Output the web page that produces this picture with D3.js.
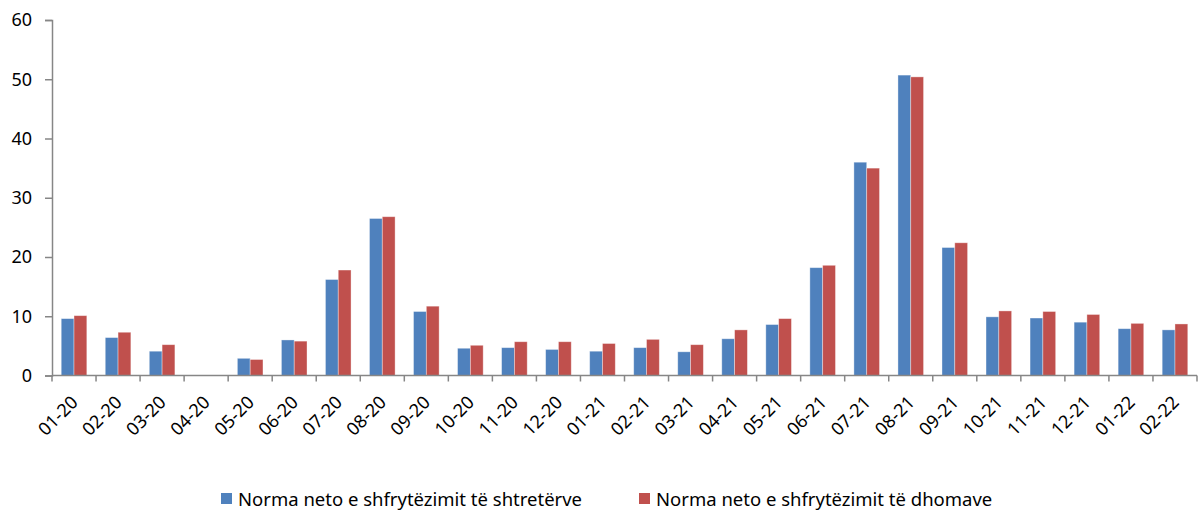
<!DOCTYPE html>
<html lang="sq">
<head>
    <meta charset="UTF-8">
    <title>Norma neto e shfrytëzimit</title>
    <style>
        body { margin: 0; background: #fff; }
        svg text { font-family: 'Noto Sans', sans-serif; fill: #000; }
    </style>
    <script src="https://d3js.org/d3.v7.min.js"></script>
</head>
<body>
    <svg width="1199" height="512"></svg>
    <script>
        const months = ["01-20","02-20","03-20","04-20","05-20","06-20","07-20","08-20","09-20","10-20","11-20","12-20",
                        "01-21","02-21","03-21","04-21","05-21","06-21","07-21","08-21","09-21","10-21","11-21","12-21",
                        "01-22","02-22"];
        const beds  = [9.6, 6.4, 4.1, 0, 2.9, 6.0, 16.2, 26.5, 10.8, 4.6, 4.7, 4.4,
                       4.1, 4.7, 4.0, 6.2, 8.6, 18.2, 36.0, 50.7, 21.6, 9.9, 9.7, 9.0,
                       7.9, 7.7];
        const rooms = [10.1, 7.3, 5.2, 0, 2.7, 5.8, 17.8, 26.8, 11.7, 5.1, 5.7, 5.7,
                       5.4, 6.1, 5.2, 7.7, 9.6, 18.6, 35.0, 50.4, 22.4, 10.9, 10.8, 10.3,
                       8.8, 8.7];
        const seriesNames = ["Norma neto e shfrytëzimit të shtretërve", "Norma neto e shfrytëzimit të dhomave"];
        const yTicks = [0, 10, 20, 30, 40, 50, 60];

        const colors = ["#4F81BD", "#C0504D"];
        const svg = d3.select("svg");
        const plotLeft = 52, plotRight = 1197, plotTop = 20, plotBottom = 375.5;

        const x = d3.scaleBand().domain(months).range([plotLeft, plotRight]).paddingInner(0).paddingOuter(0);
        const inner = d3.scaleBand().domain([0, 1]).range([0, x.bandwidth()]).paddingInner(0).paddingOuter(0.72);
        const y = d3.scaleLinear().domain([0, 60]).range([plotBottom, plotTop]);

        const rows = months.map((m, i) => ({ m, v: [beds[i], rooms[i]] }));

        // bars
        const g = svg.selectAll("g.month").data(rows).enter().append("g")
            .attr("class", "month")
            .attr("transform", d => `translate(${x(d.m)},0)`);
        g.selectAll("rect").data(d => d.v.map((v, k) => ({ v, k })).filter(d => d.v > 0)).enter().append("rect")
            .attr("x", d => inner(d.k))
            .attr("width", inner.bandwidth())
            .attr("y", d => y(d.v))
            .attr("height", d => y(0) - y(d.v))
            .attr("fill", d => colors[d.k])
            .attr("stroke", "rgba(255,255,255,0.45)")
            .attr("stroke-width", 0.8);

        // y axis
        const yAxis = svg.append("g")
            .attr("transform", `translate(${plotLeft},0)`)
            .call(d3.axisLeft(y).tickValues(yTicks).tickSize(7).tickPadding(13).tickFormat(d3.format("d")));
        yAxis.select(".domain").attr("stroke", "#868686").attr("stroke-width", 1.5);
        yAxis.selectAll(".tick line").attr("stroke", "#868686").attr("stroke-width", 1.5);
        yAxis.selectAll(".tick text").style("font-size", "18px").attr("fill", "#000");

        // x axis (ticks at category boundaries)
        const xAxis = svg.append("g").attr("transform", `translate(0,${plotBottom})`);
        xAxis.append("line").attr("x1", plotLeft).attr("x2", plotRight).attr("stroke", "#868686").attr("stroke-width", 1.5);
        xAxis.selectAll("line.tk").data(months.concat(["end"])).enter().append("line")
            .attr("class", "tk")
            .attr("x1", (d, i) => i < months.length ? x(d) : plotRight)
            .attr("x2", (d, i) => i < months.length ? x(d) : plotRight)
            .attr("y1", 0).attr("y2", 6)
            .attr("stroke", "#868686").attr("stroke-width", 1.5);
        xAxis.selectAll("text").data(months).enter().append("text")
            .attr("transform", d => `translate(${x(d) + x.bandwidth() / 2 + 5},${28}) rotate(-45)`)
            .attr("text-anchor", "end")
            .style("font-size", "18px")
            .text(d => d);

        // legend
        const legX = [221, 639];
        const leg = svg.selectAll("g.leg").data(seriesNames).enter().append("g")
            .attr("class", "leg")
            .attr("transform", (d, i) => `translate(${legX[i]},493)`);
        leg.append("rect").attr("width", 11).attr("height", 11).attr("fill", (d, i) => colors[i]);
        leg.append("text").attr("x", 17).attr("y", 12.5).style("font-size", "18.5px").text(d => d);
    </script>
</body>
</html>
